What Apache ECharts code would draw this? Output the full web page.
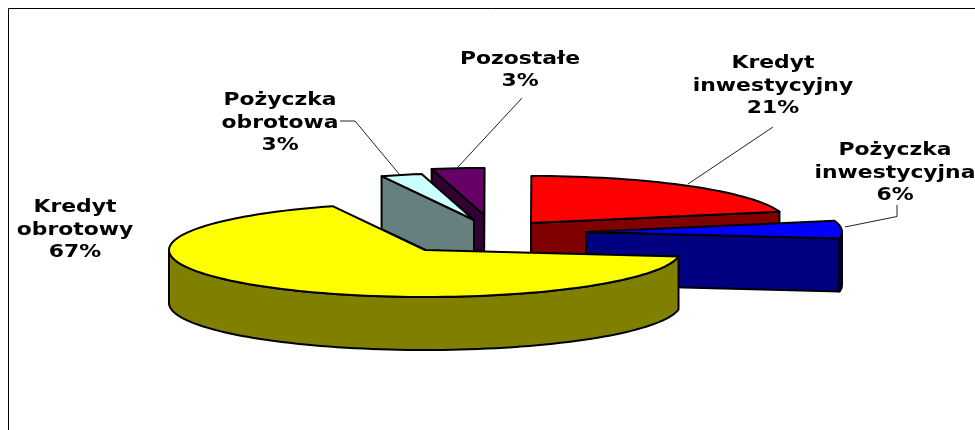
<!DOCTYPE html>
<html>
<head>
<meta charset="utf-8">
<style>html,body{margin:0;padding:0;background:#fff}#c{width:975px;height:430px}</style>
<script src="https://cdn.jsdelivr.net/npm/echarts@6/dist/echarts.min.js"></script>
</head>
<body>
<div id="c"></div>
<script>
// Data, in clockwise slice order (labels show rounded percentages)
const categories = ['Kredyt\nobrotowy', 'Pożyczka\nobrotowa', 'Pozostałe', 'Kredyt\ninwestycyjny', 'Pożyczka\ninwestycyjna'];
const shares = [66.9, 2.6, 3.3, 21.1, 6.1];

// Styles
const topColors = ['#FFFF00', '#CCFFFF', '#660066', '#FF0000', '#0000FF'];
const sideColors = ['#808000', '#668080', '#330033', '#800000', '#000080'];
const drawRanks = [5, 2, 1, 3, 4];

// Layout of the projected pie
const pieCentre = [490, 235];
const radiusX = 256, radiusY = 47, depth = 53, startAngle = 8;
const explodeOffsets = [[-65, 15], [-16, -15], [-6, -20], [41, -12], [96, -3]];
const labelCentres = [[75, 230], [280, 123], [520, 70.5], [773, 86], [895, 173]];
const leaderLines = [
  null,
  [[340, 121], [355, 121], [400, 175]],
  [[522, 98], [458, 167]],
  [[773, 127], [688, 184]],
  [[897, 205], [897, 216.5], [845, 227]]
];
const fontFamily = '"DejaVu Sans", Verdana, sans-serif';
const outline = { stroke: '#000', lineWidth: 2, lineJoin: 'round' };

const total = shares.reduce((a, b) => a + b, 0);
const starts = [];
shares.reduce((acc, s, i) => { starts[i] = acc; return acc + s / total * 360; }, startAngle);

function rimPoint(cx, cy, deg, dz) {
  const r = deg * Math.PI / 180;
  return [cx + radiusX * Math.cos(r), cy + radiusY * Math.sin(r) + dz];
}
function arc(cx, cy, a, b, dz) {
  const pts = [], n = Math.max(2, Math.ceil(Math.abs(b - a) / 2));
  for (let i = 0; i <= n; i++) pts.push(rimPoint(cx, cy, a + (b - a) * i / n, dz));
  return pts;
}
function poly(points, fill, z2) {
  return { type: 'polygon', shape: { points }, z2, style: Object.assign({ fill }, outline) };
}
function cutFace(cx, cy, deg, fill, z2) {
  const p = rimPoint(cx, cy, deg, 0), q = rimPoint(cx, cy, deg, depth);
  return poly([[cx, cy], p, q, [cx, cy + depth]], fill, z2);
}

function renderItem(params, api) {
  const i = params.dataIndex;
  const a1 = starts[i], a2 = a1 + api.value(0) / total * 360;
  const cx = pieCentre[0] + explodeOffsets[i][0], cy = pieCentre[1] + explodeOffsets[i][1];
  const z = drawRanks[i] * 10, children = [];
  const rad = d => d * Math.PI / 180;
  if (Math.sin(rad(a1 - 90)) > 0) children.push(cutFace(cx, cy, a1, sideColors[i], z));
  if (Math.sin(rad(a2 + 90)) > 0) children.push(cutFace(cx, cy, a2, sideColors[i], z));
  [0, 360].forEach(k => {
    const lo = Math.max(a1, k), hi = Math.min(a2, k + 180);
    if (lo < hi) children.push(poly(arc(cx, cy, lo, hi, 0).concat(arc(cx, cy, hi, lo, depth)), sideColors[i], z + 1));
  });
  children.push(poly([[cx, cy]].concat(arc(cx, cy, a1, a2, 0)), topColors[i], z + 2));
  if (leaderLines[i]) children.push({
    type: 'polyline', shape: { points: leaderLines[i] }, z2: 100,
    style: { fill: 'none', stroke: '#222', lineWidth: 1 }
  });
  children.push({
    type: 'text', x: labelCentres[i][0], y: labelCentres[i][1], z2: 110, scaleX: 1.25, scaleY: 1,
    style: {
      text: categories[i] + '\n' + Math.round(api.value(0)) + '%',
      align: 'center', verticalAlign: 'middle', lineHeight: 22.3,
      font: 'bold 17.5px ' + fontFamily, fill: '#000'
    }
  });
  return { type: 'group', children };
}

const chart = echarts.init(document.getElementById('c'), null, { renderer: 'canvas' });
chart.setOption({
  animation: false,
  backgroundColor: '#fff',
  graphic: [
    { type: 'polyline', silent: true, z: 0, shape: { points: [[8.5, 430], [8.5, 8.5], [975, 8.5]] },
      style: { fill: 'none', stroke: '#000', lineWidth: 1 } }
  ],
  series: [{
    type: 'custom',
    coordinateSystem: 'none',
    renderItem,
    data: shares.map((s, i) => ({ name: categories[i].replace('\n', ' '), value: [s] }))
  }]
});
</script>
</body>
</html>
